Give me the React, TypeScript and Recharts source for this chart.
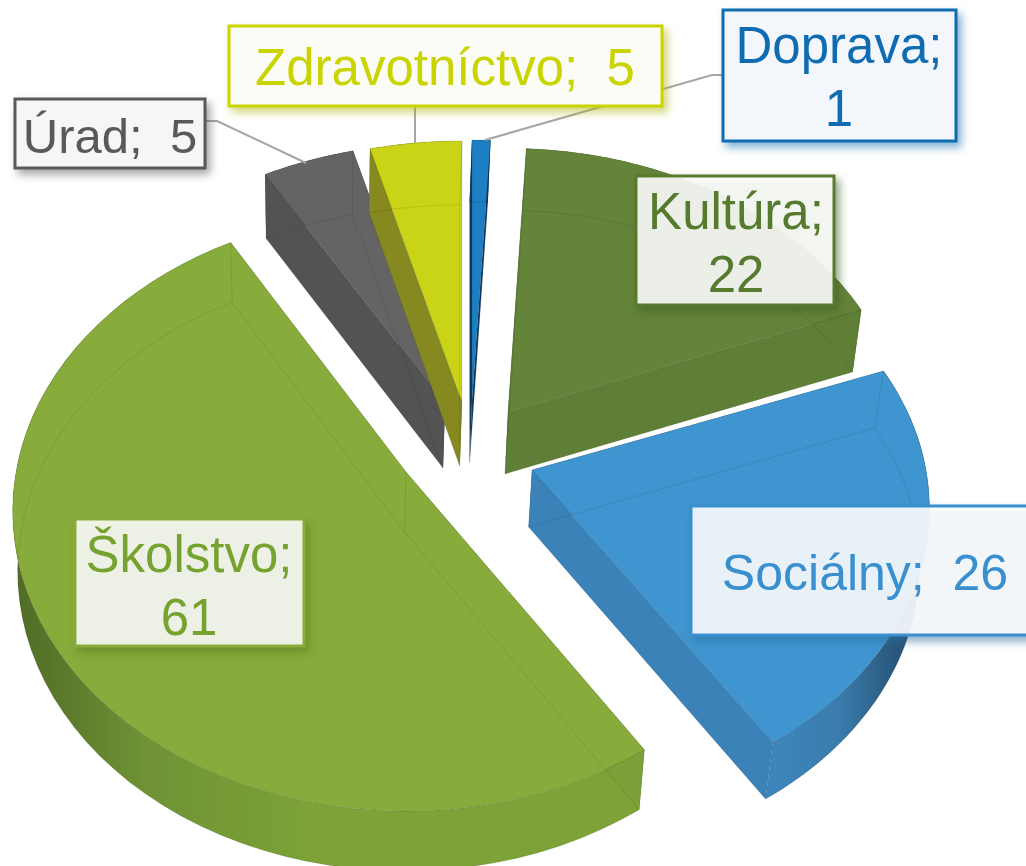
import React from "react";
import { Pie, PieChart } from "recharts";

const categories = ["Doprava", "Kultúra", "Sociálny", "Školstvo", "Úrad", "Zdravotníctvo"];
const counts = [1, 22, 26, 61, 5, 5];

const pieData = categories.map((name, i) => ({ name, value: counts[i] }));

// look of each slice: offset from pie centre, top / wall colours, squeeze, thickness
const sliceStyle: Record<string, any> = {
  Doprava: { dx: 2, dy: -69, top: "#1c7fc4", wall: "#123a5f", scale: 1, yscale: 1, depth: 62, stops: ["#123a5f", "#123a5f", "#123a5f"] },
  Kultúra: { dx: 38, dy: -58, top: "#64843a", wall: "#5f7f36", scale: 0.99, yscale: 1.01, depth: 62, stops: ["#5f7f36", "#5f7f36", "#5f7f36"] },
  Sociálny: { dx: 62, dy: 0, top: "#3f95d0", wall: "#3b82b9", scale: 0.985, yscale: 0.98, depth: 57, stops: ["#3d85bb", "#3a7cad", "#264f70"] },
  Školstvo: { dx: -64, dy: 2, top: "#87ac3b", wall: "#7aa037", scale: 0.975, yscale: 1, depth: 60, stops: ["#4f6b26", "#6f9335", "#7ca238"] },
  Úrad: { dx: -25, dy: -66, top: "#646464", wall: "#535353", scale: 1, yscale: 1, depth: 64, stops: ["#535353", "#535353", "#535353"] },
  Zdravotníctvo: { dx: -8, dy: -68, top: "#c9d416", wall: "#85891f", scale: 1, yscale: 1, depth: 64, stops: ["#85891f", "#85891f", "#85891f"] },
};

// where the callout boxes sit
const labelStyle: Record<string, any> = {
  Doprava: { x: 723, y: 10, w: 233, h: 131, size: 51, color: "#0f6cb0", stroke: "#0f6cb0", shadow: "#0f6cb088", fill: "#f3f7fb", two: true, cx: 839, b1: 63, b2: 126 },
  Kultúra: { x: 636, y: 176, w: 198, h: 129, size: 51, color: "#567a2e", stroke: "#567a2e", shadow: "#3d5a1c99", fill: "rgba(255,255,255,0.89)", two: true, cx: 736, b1: 229, b2: 292 },
  Sociálny: { x: 691, y: 506, w: 360, h: 129, size: 50, color: "#3a90cf", stroke: "#3a90cf", shadow: "#2a6e9f99", fill: "rgba(255,255,255,0.89)", two: false, cx: 865, b1: 590 },
  Školstvo: { x: 75, y: 519, w: 229, h: 127, size: 51, color: "#76a32f", stroke: "#87ac3b", shadow: "#55781f99", fill: "rgba(255,255,255,0.88)", two: true, cx: 189, b1: 572, b2: 635 },
  Úrad: { x: 15, y: 99, w: 190, h: 69, size: 49, color: "#595959", stroke: "#595959", shadow: "#59595988", fill: "#f6f6f6", two: false, cx: 110, b1: 153 },
  Zdravotníctvo: { x: 229, y: 26, w: 433, h: 80, size: 51, color: "#c9d400", stroke: "#c9d400", shadow: "#a9b20088", fill: "#fbfcf6", two: false, cx: 445, b1: 85 },
};

const leaderLines: Record<string, string> = {
  Doprava: "722,75 712,75 485,140",
  Úrad: "205,121 217,121 306,163",
  Zdravotníctvo: "415,107 415,143",
};

const PERSPECTIVE = 0.13;
const TILT = 0.7375;
const VANISH_X = 320;
const TAPER = 0.016;
const ARC_STEPS = 60;

type Pt = [number, number];

const rad = (d: number) => (d * Math.PI) / 180;

// flat disc to screen, theta clockwise from 12 o'clock
const project = (ax: number, ay: number, r: number, theta: number): Pt => {
  const u = Math.sin(rad(theta));
  const v = -Math.cos(rad(theta));
  const d = 1 - PERSPECTIVE * v;
  return [ax + (r * u) / d, ay + (r * TILT * v) / d];
};

const toPath = (pts: Pt[], close = true) =>
  "M" + pts.map((p) => `${p[0].toFixed(1)},${p[1].toFixed(1)}`).join("L") + (close ? "Z" : "");

const SliceShape = (props: any) => {
  const { cx, cy, outerRadius, startAngle, endAngle, name } = props;
  const s = sliceStyle[name];
  const ax = cx + s.dx;
  const ay = cy + s.dy;
  const t0 = 90 - startAngle;
  const t1 = 90 - endAngle;
  const r = outerRadius;
  const drop = ([x, y]: Pt): Pt => [x - (x - VANISH_X) * TAPER, y + s.depth];

  const arc: Pt[] = [];
  for (let i = 0; i <= ARC_STEPS; i++) {
    const t = t0 + ((t1 - t0) * i) / ARC_STEPS;
    const p = project(ax, ay, r, t);
    arc.push([ax + (p[0] - ax) * s.scale, ay + (p[1] - ay) * s.yscale]);
  }
  const apex: Pt = [ax, ay];
  const topFace = [apex, ...arc];
  const lowArc = arc.map(drop);
  const lowApex = drop(apex);
  const first = arc[0];
  const last = arc[arc.length - 1];
  const gradId = `wall-${props.index ?? name.length}`;
  const xs = arc.map((p) => p[0]);
  const x0 = Math.min(...xs);
  const x1 = Math.max(...xs);
  const rightDark = name === "Sociálny";

  return (
    <g>
      <defs>
        <linearGradient
          id={gradId}
          gradientUnits="userSpaceOnUse"
          x1={rightDark ? x1 - 150 : x0}
          x2={rightDark ? x1 - 20 : x0 + 300}
          y1={0}
          y2={0}
        >
          <stop offset="0" stopColor={s.stops[0]} />
          <stop offset="0.45" stopColor={s.stops[1]} />
          <stop offset="1" stopColor={s.stops[2]} />
        </linearGradient>
      </defs>
      <path d={toPath([...arc, ...[...lowArc].reverse()])} fill={`url(#${gradId})`} />
      <path d={toPath([apex, first, drop(first), lowApex])} fill={s.wall} />
      <path d={toPath([apex, last, drop(last), lowApex])} fill={s.wall} />
      <path d={toPath(topFace)} fill={s.top} stroke="rgba(0,0,0,0.12)" strokeWidth={1} />
      <path
        d={toPath([lowApex, ...lowArc])}
        fill="none"
        stroke="rgba(0,0,0,0.09)"
        strokeWidth={1}
      />
      <path
        d={`${toPath([apex, lowApex], false)}${toPath([first, drop(first)], false)}${toPath([last, drop(last)], false)}`}
        fill="none"
        stroke="rgba(0,0,0,0.09)"
        strokeWidth={1}
      />
    </g>
  );
};

const renderLabel = (props: any) => {
  const { name, value } = props;
  const l = labelStyle[name];
  const textProps = {
    x: l.cx,
    textAnchor: "middle" as const,
    fill: l.color,
    fontSize: l.size,
    fontFamily: "'Liberation Sans', Arial, sans-serif",
    style: { whiteSpace: "pre" as const },
  };
  return (
    <g>
      <rect
        x={l.x}
        y={l.y}
        width={l.w}
        height={l.h}
        fill={l.fill}
        stroke={l.stroke}
        strokeWidth={3}
        style={{ filter: `drop-shadow(4px 5px 4px ${l.shadow})` }}
      />
      {l.two ? (
        <>
          <text {...textProps} y={l.b1}>{`${name};`}</text>
          <text {...textProps} y={l.b2}>{`${value}`}</text>
        </>
      ) : (
        <text {...textProps} y={l.b1}>{`${name};  ${value}`}</text>
      )}
    </g>
  );
};

const renderLeader = (props: any) => {
  const pts = leaderLines[props.name ?? props.payload?.name];
  if (!pts) return <g />;
  return <polyline points={pts} fill="none" stroke="#a6a6a6" strokeWidth={2} />;
};

export default function App() {
  return (
    <div style={{ position: "absolute", left: 0, top: 0, width: 1026, height: 866, overflow: "hidden", background: "#fff" }}>
      <PieChart width={1026} height={866} margin={{ top: 0, right: 0, bottom: 0, left: 0 }}>
        <Pie
          data={pieData}
          dataKey="value"
          nameKey="name"
          cx={470}
          cy={470}
          innerRadius={0}
          outerRadius={400}
          startAngle={90}
          endAngle={-270}
          stroke="none"
          isAnimationActive={false}
          shape={SliceShape}
          label={renderLabel}
          labelLine={renderLeader}
        />
      </PieChart>
    </div>
  );
}
